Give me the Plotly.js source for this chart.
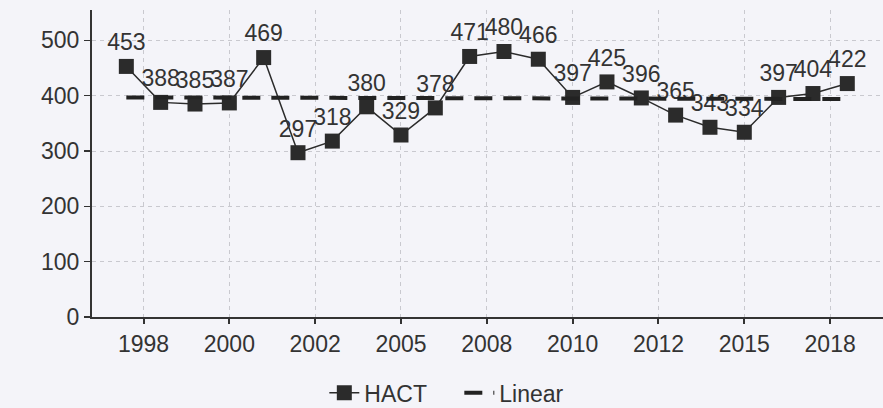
<!DOCTYPE html>
<html>
<head>
<meta charset="utf-8">
<script src="https://cdn.plot.ly/plotly-3.0.1.min.js"></script>
<style>html,body{margin:0;padding:0;background:#f4f4f9;}#chart{width:883px;height:408px;}</style>
</head>
<body>
<div id="chart"></div>
<script>
var years = [1997,1998,1999,2000,2001,2002,2003,2004,2005,2006,2007,2008,2009,2010,2011,2012,2013,2014,2015,2016,2017,2018];
var hact = [453,388,385,387,469,297,318,380,329,378,471,480,466,397,425,396,365,343,334,397,404,422];
var hactLabels = ['453','388','385','387','469','297','318','380','329','378','471','480','466','397','425','396','365','343','334','397','404','422'];
var linearYears = [1997, 2018];
var linearValues = [397, 394];
var tickPositions = [1997.5, 2000, 2002.5, 2005, 2007.5, 2010, 2012.5, 2015, 2017.5];
var tickLabels = ['1998','2000','2002','2005','2008','2010','2012','2015','2018'];
var yTicks = [0,100,200,300,400,500];

var font = {family: 'Liberation Sans, Arial, sans-serif', size: 23, color: '#333333'};

var traces = [
  {
    x: years, y: hact, name: 'HACT', type: 'scatter', mode: 'lines+markers+text',
    text: hactLabels, textposition: 'top center', textfont: font,
    line: {color: '#2b2b2b', width: 1.5},
    marker: {symbol: 'square', size: 15, color: '#2b2b2b'},
    cliponaxis: false
  },
  {
    x: linearYears, y: linearValues, name: 'Linear', type: 'scatter', mode: 'lines',
    line: {color: '#222222', width: 4, dash: '18px,11px'}
  }
];

var layout = {
  width: 883, height: 408,
  margin: {l: 92, r: 0, t: 10, b: 91, autoexpand: false},
  paper_bgcolor: '#f4f4f9', plot_bgcolor: '#f4f4f9',
  font: font,
  showlegend: true,
  legend: {orientation: 'h', x: 0.2937, xanchor: 'left', yref: 'container', y: 0.037, yanchor: 'middle',
           font: font, bgcolor: 'rgba(0,0,0,0)', itemwidth: 30, entrywidth: 90},
  xaxis: {
    range: [1996, 2019.04], tickmode: 'array', tickvals: tickPositions, ticktext: tickLabels,
    showline: true, linecolor: '#333333', linewidth: 2,
    ticks: 'outside', ticklen: 5, tickwidth: 2, tickcolor: '#333333',
    showgrid: true, gridcolor: '#c9c9cf', griddash: '4px,4px', gridwidth: 1,
    zeroline: false, tickfont: font, automargin: false
  },
  yaxis: {
    range: [0, 555], tickmode: 'array', tickvals: yTicks,
    showline: true, linecolor: '#333333', linewidth: 2,
    ticks: 'outside', ticklen: 6, tickwidth: 1.5, tickcolor: '#333333',
    showgrid: true, gridcolor: '#c9c9cf', griddash: '4px,4px', gridwidth: 1,
    zeroline: false, tickfont: font, automargin: false
  }
};

Plotly.newPlot('chart', traces, layout, {displayModeBar: false, staticPlot: true});
</script>
</body>
</html>
